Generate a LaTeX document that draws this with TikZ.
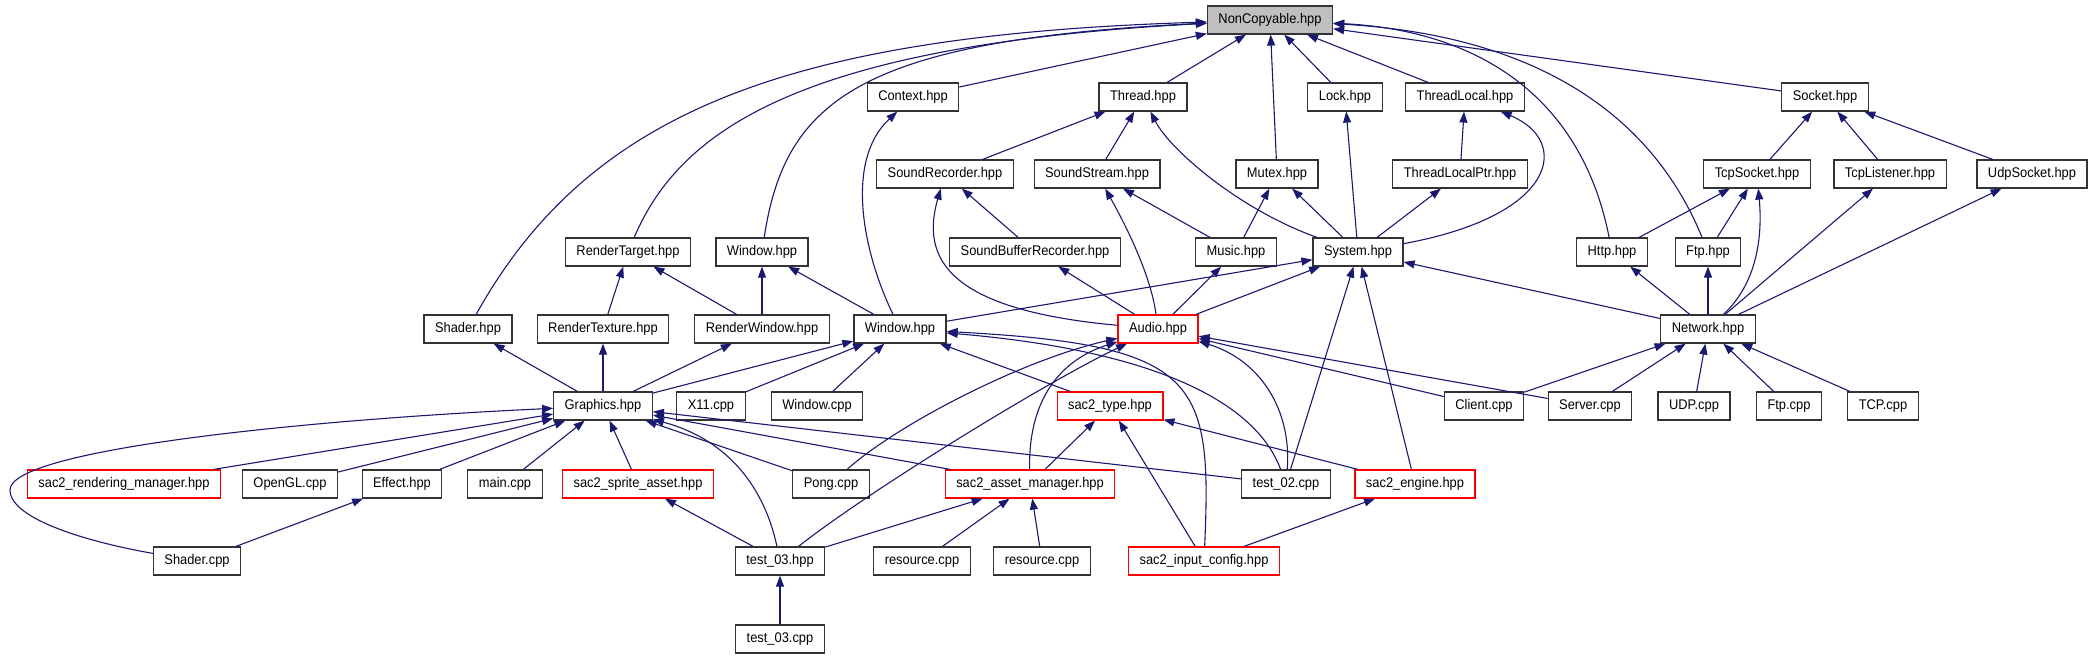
\documentclass[tikz,border=0pt]{standalone}
\usepackage{fontspec}
\setmainfont{Liberation Sans}[FakeStretch=0.92]
\usetikzlibrary{arrows.meta}
\definecolor{mblue}{HTML}{191970}
\definecolor{nodegray}{HTML}{BFBFBF}
\definecolor{nodered}{HTML}{FF0000}
\definecolor{nodeline}{HTML}{333333}
\begin{document}
\begin{tikzpicture}[x=1pt,y=-1pt,
  file/.style={draw=nodeline, line width=1.2pt, fill=white, rectangle, inner xsep=11pt, inner ysep=0pt, minimum height=28pt, text height=10.5pt, text depth=3pt, font=\fontsize{14}{16}\selectfont},
  root/.style={file, fill=nodegray},
  redfile/.style={file, draw=nodered},
  edge/.style={draw=mblue, line width=1.1pt, -{Triangle[length=11pt,width=8pt]}}]
\useasboundingbox (0,0) rectangle (2092,659);
% rank 0
\node[root] (nc) at (1270,20) {NonCopyable.hpp};
% rank 1
\node[file] (ctx) at (913,97) {Context.hpp};
\node[file] (thr) at (1143,97) {Thread.hpp};
\node[file] (lock) at (1345,97) {Lock.hpp};
\node[file] (tl) at (1465,97) {ThreadLocal.hpp};
\node[file] (sock) at (1825,97) {Socket.hpp};
% rank 2
\node[file] (srec) at (945,174) {SoundRecorder.hpp};
\node[file] (sstr) at (1097,174) {SoundStream.hpp};
\node[file] (mutex) at (1277,174) {Mutex.hpp};
\node[file] (tlp) at (1460,174) {ThreadLocalPtr.hpp};
\node[file] (tcps) at (1757,174) {TcpSocket.hpp};
\node[file] (tcpl) at (1890,174) {TcpListener.hpp};
\node[file] (udps) at (2032,174) {UdpSocket.hpp};
% rank 3
\node[file] (rt) at (628,252) {RenderTarget.hpp};
\node[file] (winA) at (762,252) {Window.hpp};
\node[file] (sbr) at (1035,252) {SoundBufferRecorder.hpp};
\node[file] (music) at (1236,252) {Music.hpp};
\node[file] (sys) at (1358,252) {System.hpp};
\node[file] (http) at (1612,252) {Http.hpp};
\node[file] (ftph) at (1708,252) {Ftp.hpp};
% rank 4
\node[file] (shh) at (468,329) {Shader.hpp};
\node[file] (rtex) at (603,329) {RenderTexture.hpp};
\node[file] (rwin) at (762,329) {RenderWindow.hpp};
\node[file] (winB) at (900,329) {Window.hpp};
\node[redfile] (audio) at (1158,329) {Audio.hpp};
\node[file] (net) at (1708,329) {Network.hpp};
% rank 5
\node[file] (gfx) at (603,406) {Graphics.hpp};
\node[file] (x11) at (711,406) {X11.cpp};
\node[file] (wcpp) at (817,406) {Window.cpp};
\node[redfile] (stype) at (1110,406) {sac2\_type.hpp};
\node[file] (client) at (1484,406) {Client.cpp};
\node[file] (server) at (1590,406) {Server.cpp};
\node[file] (udp) at (1694,406) {UDP.cpp};
\node[file] (ftpc) at (1789,406) {Ftp.cpp};
\node[file] (tcp) at (1883,406) {TCP.cpp};
% rank 6
\node[redfile] (srm) at (124,484) {sac2\_rendering\_manager.hpp};
\node[file] (ogl) at (290,484) {OpenGL.cpp};
\node[file] (effect) at (402,484) {Effect.hpp};
\node[file] (mainc) at (505,484) {main.cpp};
\node[redfile] (ssa) at (638,484) {sac2\_sprite\_asset.hpp};
\node[file] (pong) at (831,484) {Pong.cpp};
\node[redfile] (sam) at (1030,484) {sac2\_asset\_manager.hpp};
\node[file] (t02) at (1286,484) {test\_02.cpp};
\node[redfile] (seng) at (1415,484) {sac2\_engine.hpp};
% rank 7
\node[file] (shc) at (197,561) {Shader.cpp};
\node[file] (t03h) at (780,561) {test\_03.hpp};
\node[file] (res1) at (922,561) {resource.cpp};
\node[file] (res2) at (1042,561) {resource.cpp};
\node[redfile] (sic) at (1204,561) {sac2\_input\_config.hpp};
% rank 8
\node[file] (t03c) at (780,639) {test\_03.cpp};

% edges to NonCopyable
\draw[edge] (shh) .. controls (590,110) and (790,35) .. (nc);
\draw[edge] (rt) .. controls (680,130) and (800,45) .. (nc);
\draw[edge] (winA) .. controls (785,100) and (860,40) .. (nc);
\draw[edge] (ctx) -- (nc);
\draw[edge] (thr) -- (nc);
\draw[edge] (mutex) -- (nc);
\draw[edge] (lock) -- (nc);
\draw[edge] (tl) -- (nc);
\draw[edge] (http) .. controls (1580,90) and (1470,30) .. (nc);
\draw[edge] (ftph) .. controls (1650,110) and (1530,35) .. (nc);
\draw[edge] (sock) -- (nc);
% system area
\draw[edge] (srec) -- (thr);
\draw[edge] (sstr) -- (thr);
\draw[edge] (sys) .. controls (1240,210) and (1170,150) .. (thr);
\draw[edge] (sys) -- (lock);
\draw[edge] (tlp) -- (tl);
\draw[edge] (sys) .. controls (1560,215) and (1570,140) .. (tl);
\draw[edge] (music) -- (mutex);
\draw[edge] (sys) -- (mutex);
\draw[edge] (sys) -- (tlp);
\draw[edge] (sbr) -- (srec);
\draw[edge] (audio) .. controls (950,310) and (920,260) .. (srec);
\draw[edge] (music) -- (sstr);
\draw[edge] (audio) .. controls (1150,270) and (1120,215) .. (sstr);
\draw[edge] (audio) -- (sbr);
\draw[edge] (audio) -- (music);
\draw[edge] (audio) -- (sys);
\draw[edge] (winB) -- (sys);
\draw[edge] (net) -- (sys);
\draw[edge] (t02) -- (sys);
\draw[edge] (seng) -- (sys);
% network area
\draw[edge] (http) -- (tcps);
\draw[edge] (ftph) -- (tcps);
\draw[edge] (net) .. controls (1760,280) and (1762,230) .. (tcps);
\draw[edge] (tcps) -- (sock);
\draw[edge] (tcpl) -- (sock);
\draw[edge] (udps) -- (sock);
\draw[edge] (net) -- (http);
\draw[edge] (net) -- (ftph);
\draw[edge] (net) -- (tcpl);
\draw[edge] (net) -- (udps);
% graphics / window area
\draw[edge] (rtex) -- (rt);
\draw[edge] (rwin) -- (rt);
\draw[edge] (rwin) -- (winA);
\draw[edge] (winB) -- (winA);
\draw[edge] (winB) .. controls (862,250) and (845,160) .. (ctx);
\draw[edge] (gfx) -- (shh);
\draw[edge] (gfx) -- (rtex);
\draw[edge] (gfx) -- (rwin);
\draw[edge] (gfx) -- (winB);
\draw[edge] (x11) -- (winB);
\draw[edge] (wcpp) -- (winB);
\draw[edge] (stype) -- (winB);
\draw[edge] (t02) .. controls (1255,400) and (1150,350) .. (winB);
\draw[edge] (sic) .. controls (1212,380) and (1200,345) .. (winB);
\draw[edge] (shc) .. controls (93,543) and (10,520) .. (10,490) .. controls (10,450) and (300,420) .. (gfx);
\draw[edge] (srm) -- (gfx);
\draw[edge] (ogl) -- (gfx);
\draw[edge] (effect) -- (gfx);
\draw[edge] (mainc) -- (gfx);
\draw[edge] (ssa) -- (gfx);
\draw[edge] (pong) -- (gfx);
\draw[edge] (sam) -- (gfx);
\draw[edge] (t02) -- (gfx);
\draw[edge] (t03h) .. controls (765,490) and (730,440) .. (gfx);
\draw[edge] (shc) -- (effect);
\draw[edge] (t03h) -- (ssa);
% audio area
\draw[edge] (t03h) .. controls (870,490) and (1050,380) .. (audio);
\draw[edge] (sam) .. controls (1028,400) and (1060,360) .. (audio);
\draw[edge] (pong) .. controls (894,427) and (1018,361) .. (audio);
\draw[edge] (t02) .. controls (1292,410) and (1260,360) .. (audio);
\draw[edge] (client) -- (audio);
\draw[edge] (server) -- (audio);
\draw[edge] (client) -- (net);
\draw[edge] (server) -- (net);
\draw[edge] (udp) -- (net);
\draw[edge] (ftpc) -- (net);
\draw[edge] (tcp) -- (net);
% sac2 area
\draw[edge] (sam) -- (stype);
\draw[edge] (sic) -- (stype);
\draw[edge] (seng) -- (stype);
\draw[edge] (t03h) -- (sam);
\draw[edge] (res1) -- (sam);
\draw[edge] (res2) -- (sam);
\draw[edge] (sic) -- (seng);
\draw[edge] (t03c) -- (t03h);
\end{tikzpicture}
\end{document}
